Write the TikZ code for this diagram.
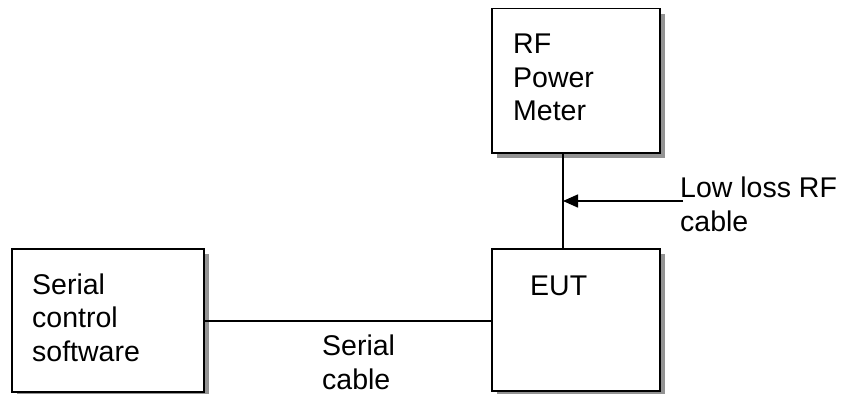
\documentclass[tikz,border=0pt]{standalone}
\usepackage{fontspec}
\setmainfont{Liberation Sans}
\usetikzlibrary{arrows.meta,shadows}
\begin{document}
\begin{tikzpicture}[x=1pt,y=-1pt,
  box/.style={draw=black,line width=1.5pt,fill=white,inner sep=0pt,
    drop shadow={shadow xshift=5pt,shadow yshift=-5pt,fill=gray!85,opacity=1}},
  lbl/.style={inner sep=0pt,align=left,anchor=base west,
    font=\fontsize{28.5pt}{33.5pt}\selectfont},
  wire/.style={line width=1.5pt}]
\useasboundingbox (0,0) rectangle (842,393);
\node[box,anchor=north west,minimum width=168pt,minimum height=144pt] (rf) at (491,8) {};
\node[box,anchor=north west,minimum width=168pt,minimum height=142pt] (eut) at (491,248) {};
\node[box,anchor=north west,minimum width=192pt,minimum height=143pt] (sw) at (11,248) {};
\node[lbl] (rft) at (513,121) {RF\\Power\\Meter};
\node[lbl] (eutt) at (530,295) {EUT};
\node[lbl] (swt) at (32,361) {Serial\\control\\software};
\node[lbl] (rfc) at (680,231) {Low loss RF\\cable};
\node[lbl] (sct) at (322,389) {Serial\\cable};
\coordinate (tap) at (563,201);
\coordinate (rfend) at (683,201);
\draw[wire] (rf.south -| tap) -- (eut.north -| tap);
\draw[wire,-{Triangle[length=15pt,width=13pt]}] (rfend) -- (tap);
\draw[wire] (sw.east |- 0,321) -- (eut.west |- 0,321);
\end{tikzpicture}
\end{document}
